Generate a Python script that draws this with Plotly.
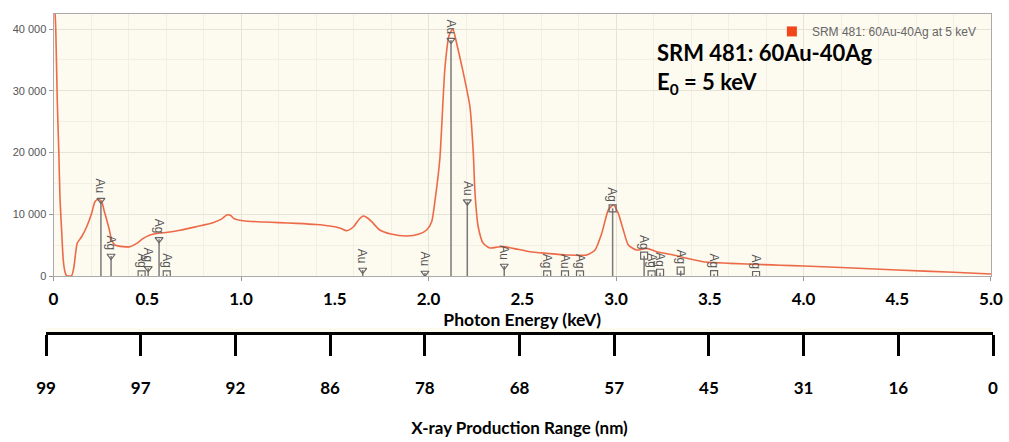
import plotly.graph_objects as go

# ---- spectrum ----
energy_keV = [0.005, 0.012, 0.020, 0.028, 0.035, 0.044, 0.052, 0.061, 0.070, 0.097, 0.109, 0.118,
              0.127, 0.150, 0.177, 0.204, 0.221, 0.239, 0.257, 0.269, 0.284, 0.298, 0.310, 0.328,
              0.372, 0.408, 0.444, 0.479, 0.515, 0.568, 0.600, 0.675, 0.760, 0.850, 0.900, 0.924,
              0.945, 0.960, 1.012, 1.120, 1.200, 1.297, 1.400, 1.475, 1.530, 1.564, 1.600, 1.630,
              1.652, 1.675, 1.697, 1.740, 1.800, 1.884, 1.950, 1.990, 2.017, 2.035, 2.060, 2.088,
              2.110, 2.130, 2.150, 2.186, 2.221, 2.239, 2.248, 2.265, 2.292, 2.328, 2.370, 2.399,
              2.452, 2.541, 2.630, 2.737, 2.844, 2.888, 2.924, 2.959, 2.986, 3.012, 3.039, 3.066,
              3.110, 3.164, 3.217, 3.306, 3.377, 3.466, 3.608, 3.786, 3.875, 4.000, 4.200, 4.500,
              4.800, 5.000]
counts = [45000, 40000, 28500, 20400, 12300, 6960, 2590, 700, 50, 80, 1500, 3720,
          5340, 6360, 7980, 10200, 12030, 12420, 12030, 10690, 9070, 7450, 5830, 5020,
          4750, 4750, 5290, 6100, 6640, 6960, 7050, 7400, 7980, 8630, 9300, 9880,
          9800, 9340, 8950, 8740, 8650, 8530, 8350, 8100, 7750, 7340, 7980, 9200,
          9710, 9400, 8800, 7450, 6800, 6480, 6800, 7450, 8800, 12300, 18780, 33840,
          39000, 40000, 37700, 32860, 27400, 19860, 13430, 7980, 5290, 4530, 4700, 4750,
          4480, 3930, 3670, 3400, 3400, 4210, 6910, 10690, 11500, 10150, 7450, 5020,
          4210, 4480, 3930, 3400, 2870, 2320, 2050, 1850, 1750, 1620, 1380, 970,
          600, 320]

# ---- peak identification markers ----
line_energy = [0.253, 0.307, 0.470, 0.505, 0.563, 0.604, 1.649, 1.981, 2.120, 2.207, 2.404,
               2.633, 2.728, 2.808, 2.982, 3.150, 3.190, 3.235, 3.345, 3.523, 3.747]
line_height = [12300, 3240, 250, 1250, 5940, 250, 970, 490, 38200, 12030, 1620,
               250, 250, 250, 10960, 3300, 250, 530, 860, 320, 160]
line_label = ["Au", "Ag", "Ag", "Ag", "Ag", "Ag", "Au", "Au", "Au", "Au", "Au",
              "Ag", "Au", "Ag", "Ag", "Ag", "Ag", "Ag", "Ag", "Ag", "Ag"]
line_symbol = ["triangle-down-open", "triangle-down-open", "square-open", "triangle-down-open",
               "triangle-down-open", "square-open", "triangle-down-open", "triangle-down-open",
               "triangle-down-open", "triangle-down-open", "triangle-down-open"] + ["square-open"] * 10

# ---- axes ----
energy_ticks = [0, 0.5, 1.0, 1.5, 2.0, 2.5, 3.0, 3.5, 4.0, 4.5, 5.0]
energy_ticktext = ["0", "0.5", "1.0", "1.5", "2.0", "2.5", "3.0", "3.5", "4.0", "4.5", "5.0"]
range_nm = ["99", "97", "92", "86", "78", "68", "57", "45", "31", "16", "0"]
y_ticks = [0, 10000, 20000, 30000, 40000]

series_name = "SRM 481: 60Au-40Ag at 5 keV"
BOLD = "Lato"

fig = go.Figure()

# vertical identification lines
lx, ly = [], []
for e, h in zip(line_energy, line_height):
    lx += [e, e, None]
    ly += [0, h, None]
fig.add_trace(go.Scatter(x=lx, y=ly, mode="lines", line=dict(color="#7a7a7a", width=1.5),
                         showlegend=False, hoverinfo="skip"))

# spectrum
fig.add_trace(go.Scatter(x=energy_keV, y=counts, mode="lines",
                         line=dict(color="#ec6a47", width=1.6, shape="spline", smoothing=0.6),
                         showlegend=False, name=series_name))

# markers
fig.add_trace(go.Scatter(x=line_energy, y=line_height, mode="markers",
                         marker=dict(symbol=line_symbol, size=7, color="#666666",
                                     line=dict(width=1.2, color="#666666")),
                         showlegend=False, hoverinfo="skip"))

# legend entry (series colour swatch)
fig.add_trace(go.Scatter(x=[None], y=[None], mode="markers", name=series_name,
                         marker=dict(symbol="square", size=10, color="#f2461a"),
                         xaxis="x3"))

# anchor trace for the lower range scale
fig.add_trace(go.Scatter(x=[None], y=[None], mode="markers", showlegend=False,
                         xaxis="x2", yaxis="y2", hoverinfo="skip"))

# peak labels
for e, h, lab in zip(line_energy, line_height, line_label):
    fig.add_annotation(x=e, y=h, xref="x", yref="y", text=lab, textangle=90,
                       showarrow=False, yanchor="bottom", xanchor="center", yshift=4,
                       font=dict(family="Liberation Sans", size=12, color="#555555"))

fig.add_annotation(xref="paper", yref="paper", x=0.6453, y=0.908, xanchor="left", yanchor="middle",
                   text="SRM 481: 60Au-40Ag", showarrow=False,
                   font=dict(family=BOLD, size=22, color="black", weight="bold"))
fig.add_annotation(xref="paper", yref="paper", x=0.6453, y=0.835, xanchor="left", yanchor="middle",
                   text="E<sub>0</sub> = 5 keV", showarrow=False,
                   font=dict(family=BOLD, size=22, color="black", weight="bold"))

grid_major = "#e8e3d6"
grid_minor = "#f3efe3"

fig.update_layout(
    width=1009, height=442,
    margin=dict(l=40, r=16, t=14, b=10, autoexpand=False),
    paper_bgcolor="white", plot_bgcolor="#fdfaf0",
    separators=". ",
    showlegend=True,
    legend=dict(x=0.768, y=0.993, xanchor="left", yanchor="top", bgcolor="rgba(0,0,0,0)",
                font=dict(family="Liberation Sans", size=12, color="#666666"),
                itemwidth=30),
    xaxis=dict(domain=[0.01417, 0.9979], range=[0, 5], anchor="y", tick0=0, dtick=1,
               ticks="outside", ticklen=4, tickcolor="#999999", showticklabels=False,
               showline=True, linecolor="#aaaaaa", mirror=True, zeroline=False,
               showgrid=True, gridcolor=grid_major, automargin=False,
               minor=dict(dtick=0.2, showgrid=True, gridcolor=grid_minor)),
    xaxis3=dict(overlaying="x", anchor="y", side="bottom", range=[0, 5],
                tickmode="array", tickvals=energy_ticks, ticktext=energy_ticktext,
                ticks="", showgrid=False, showline=False, zeroline=False, automargin=False,
                tickfont=dict(family=BOLD, size=17, color="black", weight="bold"),
                ticklabelstandoff=11,
                title=dict(text="Photon Energy (keV)", standoff=0,
                           font=dict(family=BOLD, size=17.5, color="black", weight="bold"))),
    yaxis=dict(domain=[0.3732, 1], range=[0, 42430], anchor="x",
               tickmode="array", tickvals=y_ticks, tickformat=",d",
               ticks="outside", ticklen=4, tickcolor="#999999",
               tickfont=dict(family="Liberation Sans", size=11, color="#555555"),
               showline=True, linecolor="#aaaaaa", mirror=True, zeroline=False,
               showgrid=True, gridcolor=grid_major, automargin=False,
               minor=dict(dtick=5000, showgrid=True, gridcolor=grid_minor)),
    xaxis2=dict(domain=[0.0063, 1.0], range=[0, 5], anchor="y2",
                tickmode="array", tickvals=energy_ticks, ticktext=range_nm,
                ticks="outside", ticklen=21, tickwidth=2.5, tickcolor="black",
                showline=True, linewidth=3, linecolor="black",
                showgrid=False, zeroline=False, automargin=False,
                tickfont=dict(family=BOLD, size=17, color="black", weight="bold"),
                ticklabelstandoff=18,
                title=dict(text="X-ray Production Range (nm)", standoff=25,
                           font=dict(family=BOLD, size=17, color="black", weight="bold"))),
    yaxis2=dict(domain=[0.2393, 0.2493], range=[0, 1], anchor="x2", visible=False),
)

fig.write_html("out.html", config={"displayModeBar": False},
               post_script="document.body.style.margin='0';")
